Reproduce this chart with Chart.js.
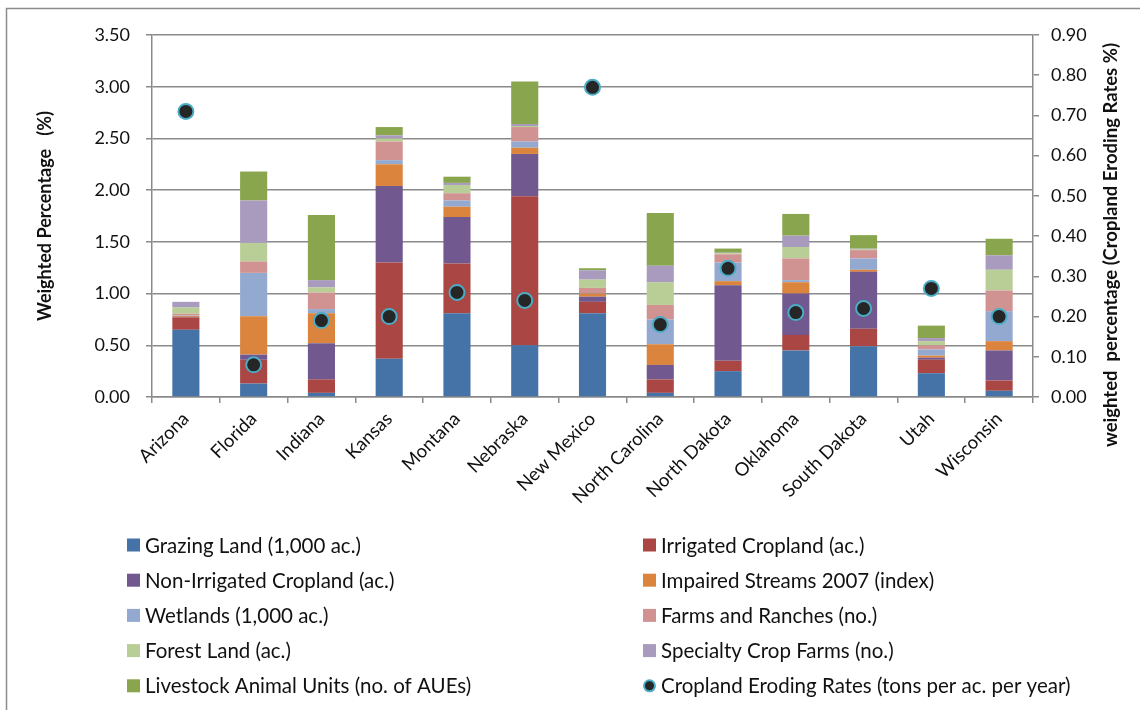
<!DOCTYPE html>
<html>
<head>
<meta charset="utf-8">
<title>Weighted percentage by state</title>
<script src="https://cdn.jsdelivr.net/npm/chart.js@4.4.1/dist/chart.umd.min.js"></script>
<style>
  html, body { margin: 0; padding: 0; background: #fff; }
  #wrap { width: 1140px; height: 710px; }
</style>
</head>
<body>
<div id="wrap"><canvas id="chart" width="1140" height="710"></canvas></div>
<script>
// States along the x axis
const states = ['Arizona', 'Florida', 'Indiana', 'Kansas', 'Montana', 'Nebraska', 'New Mexico',
                'North Carolina', 'North Dakota', 'Oklahoma', 'South Dakota', 'Utah', 'Wisconsin'];

// Stacked components (weighted %), bottom to top
const grazingLand      = [0.65, 0.13, 0.04, 0.37, 0.81, 0.50, 0.81, 0.04, 0.25, 0.45, 0.49, 0.23, 0.06];
const irrigatedCrop    = [0.12, 0.23, 0.13, 0.93, 0.48, 1.44, 0.11, 0.13, 0.10, 0.15, 0.17, 0.13, 0.10];
const nonIrrigatedCrop = [0.005, 0.05, 0.35, 0.74, 0.45, 0.41, 0.05, 0.14, 0.73, 0.40, 0.55, 0.02, 0.29];
const impairedStreams  = [0.01, 0.37, 0.29, 0.21, 0.10, 0.06, 0.03, 0.20, 0.04, 0.11, 0.02, 0.02, 0.09];
const wetlands         = [0.005, 0.42, 0.04, 0.04, 0.06, 0.06, 0.005, 0.24, 0.18, 0.02, 0.11, 0.06, 0.29];
const farmsRanches     = [0.015, 0.11, 0.16, 0.18, 0.07, 0.14, 0.05, 0.14, 0.08, 0.21, 0.08, 0.04, 0.20];
const forestLand       = [0.06, 0.18, 0.05, 0.03, 0.08, 0.01, 0.08, 0.22, 0.01, 0.11, 0.01, 0.04, 0.20];
const specialtyCrop    = [0.055, 0.41, 0.07, 0.03, 0.02, 0.02, 0.09, 0.16, 0.005, 0.11, 0.005, 0.03, 0.14];
const livestockUnits   = [0, 0.28, 0.63, 0.08, 0.06, 0.41, 0.02, 0.51, 0.04, 0.21, 0.13, 0.12, 0.16];

// Cropland eroding rates, plotted on the right axis
const erodingRates = [0.71, 0.08, 0.19, 0.20, 0.26, 0.24, 0.77, 0.18, 0.32, 0.21, 0.22, 0.27, 0.20];

// Axis ranges
const leftMax = 3.5, leftStep = 0.5;
const rightMax = 0.9, rightStep = 0.1;

const FONT = 'Lato, "Open Sans", sans-serif';
const TEXT = '#111111';
const GRID = '#8a8a8a';

function bar(label, data, color) {
  return {
    type: 'bar', label, data, backgroundColor: color,
    borderWidth: 0, barPercentage: 0.4, categoryPercentage: 1,
    yAxisID: 'y', order: 1
  };
}

const datasets = [
  bar('Grazing Land (1,000 ac.)', grazingLand, '#4572A7'),
  bar('Irrigated Cropland (ac.)', irrigatedCrop, '#AA4643'),
  bar('Non-Irrigated Cropland (ac.)', nonIrrigatedCrop, '#71588F'),
  bar('Impaired Streams 2007 (index)', impairedStreams, '#DB843D'),
  bar('Wetlands (1,000 ac.)', wetlands, '#93A9CF'),
  bar('Farms and Ranches (no.)', farmsRanches, '#D19392'),
  bar('Forest Land (ac.)', forestLand, '#B9CD96'),
  bar('Specialty Crop Farms (no.)', specialtyCrop, '#A99BBD'),
  bar('Livestock Animal Units (no. of AUEs)', livestockUnits, '#89A54E'),
  {
    type: 'line',
    label: 'Cropland Eroding Rates (tons per ac. per year)',
    data: erodingRates,
    yAxisID: 'y1',
    showLine: false,
    pointRadius: 7.5,
    pointBorderWidth: 2,
    pointBackgroundColor: '#262626',
    pointBorderColor: '#4BACC6',
    order: 0
  }
];

// Frame, right axis title and the two-column legend
const decorPlugin = {
  id: 'decor',
  afterDraw(chart) {
    const ctx = chart.ctx;
    ctx.save();

    // outer frame (top and left edges)
    ctx.strokeStyle = '#8c8c8c';
    ctx.lineWidth = 1.5;
    ctx.beginPath();
    ctx.moveTo(6.5, 710);
    ctx.lineTo(6.5, 8.5);
    ctx.lineTo(1140, 8.5);
    ctx.stroke();

    // right axis title, reading bottom to top
    ctx.fillStyle = TEXT;
    ctx.font = 'bold 18.5px ' + FONT;
    ctx.textAlign = 'center';
    ctx.textBaseline = 'middle';
    ctx.translate(1111, 245);
    ctx.rotate(-Math.PI / 2);
    ctx.fillText('weighted  percentage (Cropland Eroding Rates %)', 0, 0);
    ctx.setTransform(1, 0, 0, 1, 0, 0);

    // legend
    ctx.font = '20.5px ' + FONT;
    ctx.textAlign = 'left';
    chart.data.datasets.forEach((ds, i) => {
      const x = (i % 2) ? 643 : 127;
      const y = 545 + Math.floor(i / 2) * 35.2;
      if (ds.type === 'line') {
        ctx.beginPath();
        ctx.arc(x + 6.5, y, 5.5, 0, Math.PI * 2);
        ctx.fillStyle = ds.pointBackgroundColor;
        ctx.fill();
        ctx.lineWidth = 2;
        ctx.strokeStyle = ds.pointBorderColor;
        ctx.stroke();
      } else {
        ctx.fillStyle = ds.backgroundColor;
        ctx.fillRect(x, y - 6.5, 13, 13);
      }
      ctx.fillStyle = TEXT;
      ctx.fillText(ds.label, x + 18, y + 1);
    });
    ctx.restore();
  }
};

new Chart(document.getElementById('chart'), {
  data: { labels: states, datasets },
  options: {
    responsive: false,
    animation: false,
    layout: { padding: { left: 0, right: 0, top: 35, bottom: 0 } },
    plugins: {
      legend: { display: false },
      tooltip: { enabled: false }
    },
    scales: {
      x: {
        stacked: true,
        grid: { offset: true, drawOnChartArea: false, tickLength: 6, color: GRID, lineWidth: 1.5 },
        border: { color: GRID, width: 1.5 },
        ticks: {
          autoSkip: false, minRotation: 45, maxRotation: 45, padding: 5,
          color: TEXT, font: { family: FONT, size: 18.5 }
        },
        afterFit(scale) { scale.height = 710 - 397; }
      },
      y: {
        stacked: true,
        position: 'left',
        min: 0,
        max: leftMax,
        grid: { tickLength: 6, color: GRID, lineWidth: 1.5 },
        border: { color: GRID, width: 1.5 },
        ticks: {
          stepSize: leftStep, padding: 16, color: TEXT,
          font: { family: FONT, size: 18 },
          callback: v => v.toFixed(2)
        },
        title: {
          display: true,
          text: 'Weighted Percentage   (%)',
          color: TEXT,
          font: { family: FONT, size: 18, weight: 'bold' },
          padding: { top: 34, bottom: 0 }
        },
        afterFit(scale) { scale.width = 152; }
      },
      y1: {
        position: 'right',
        min: 0,
        max: rightMax,
        grid: { drawOnChartArea: false, tickLength: 6, color: GRID, lineWidth: 1.5 },
        border: { color: GRID, width: 1.5 },
        ticks: {
          stepSize: rightStep, padding: 12, color: TEXT,
          font: { family: FONT, size: 18 },
          callback: v => v.toFixed(2)
        },
        afterFit(scale) { scale.width = 1140 - 1033; }
      }
    }
  },
  plugins: [decorPlugin]
});
</script>
</body>
</html>
